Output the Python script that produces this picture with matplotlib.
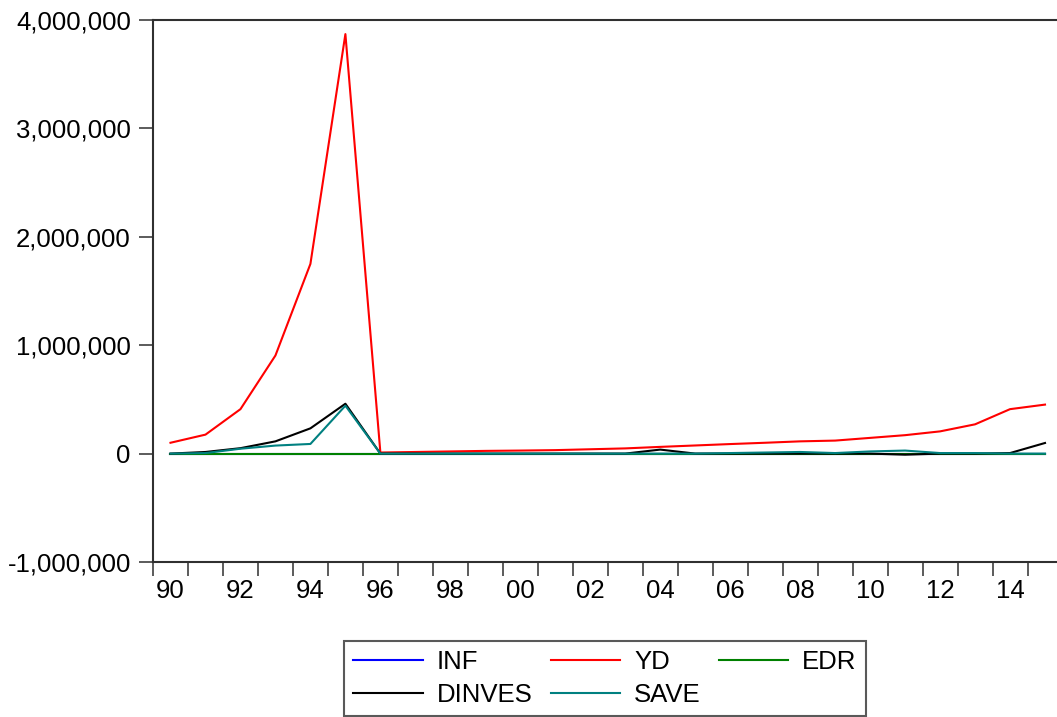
import matplotlib.pyplot as plt
from matplotlib.ticker import FuncFormatter, MultipleLocator

plt.rcParams['font.family'] = ['Liberation Sans', 'DejaVu Sans']

years = list(range(1990, 2016))

# series values
inf = [0] * 26
edr = [0] * 26
yd = [100000, 175000, 410000, 905000, 1750000, 3870000, 10000, 15000, 20000, 25000,
      28000, 32000, 40000, 48000, 62000, 75000, 88000, 100000, 113000, 120000,
      145000, 170000, 205000, 270000, 410000, 452000]
dinves = [0, 15000, 50000, 113000, 233000, 460000, 0, 0, 0, 0,
          0, 0, 0, 0, 37000, 0, 0, 0, 0, 0,
          0, -10000, 0, 0, 5000, 98000]
save = [0, 5000, 45000, 74000, 89000, 442000, 0, 0, 0, 0,
        0, 0, 0, 0, 0, 0, 5000, 10000, 15000, 5000,
        20000, 28000, 5000, 5000, 0, 0]

fig = plt.figure(figsize=(10.57, 7.17), dpi=100)
ax = fig.add_axes([153 / 1057, 1 - 562 / 717, (1062.5 - 153) / 1057, (562 - 20) / 717])

l_inf, = ax.plot(years, inf, color='#0000ff', lw=1.5)
l_yd, = ax.plot(years, yd, color='#ff0000', lw=1.5)
l_edr, = ax.plot(years, edr, color='#008000', lw=1.5)
l_din, = ax.plot(years, dinves, color='#000000', lw=1.5)
l_save, = ax.plot(years, save, color='#008080', lw=1.5)

ax.set_xlim(1989.5, 2015.5)
ax.set_ylim(-1000000, 4000000)

ax.yaxis.set_major_locator(MultipleLocator(1000000))
ax.yaxis.set_major_formatter(FuncFormatter(lambda v, p: f'{int(v):,}'))

ax.set_xticks(years[::2])
ax.set_xticklabels([f'{y % 100:02d}' for y in years[::2]])
ax.set_xticks([y - 0.5 for y in years], minor=True)
ax.tick_params(axis='x', which='major', length=0, pad=12, labelsize=18.5)
ax.tick_params(axis='x', which='minor', length=10, width=1.2, color='#404040')
ax.tick_params(axis='y', length=10, width=1.2, color='#404040', pad=6, labelsize=18.5)

for s in ['top', 'left', 'bottom']:
    ax.spines[s].set_linewidth(1.5)
    ax.spines[s].set_color('#303030')
ax.spines['right'].set_visible(False)

leg = fig.legend([l_inf, l_din, l_yd, l_save, l_edr],
                 ['INF', 'DINVES', 'YD', 'SAVE', 'EDR'],
                 ncol=3, loc='upper center', bbox_to_anchor=(605 / 1057, 1 - 641 / 717),
                 borderaxespad=0, fontsize=18.5, frameon=True, fancybox=False,
                 edgecolor='#303030', handlelength=2.7, handletextpad=0.55,
                 columnspacing=0.7, labelspacing=0.33, borderpad=0.36)
leg.get_frame().set_linewidth(1.5)

fig.savefig('out.png', dpi=100)
